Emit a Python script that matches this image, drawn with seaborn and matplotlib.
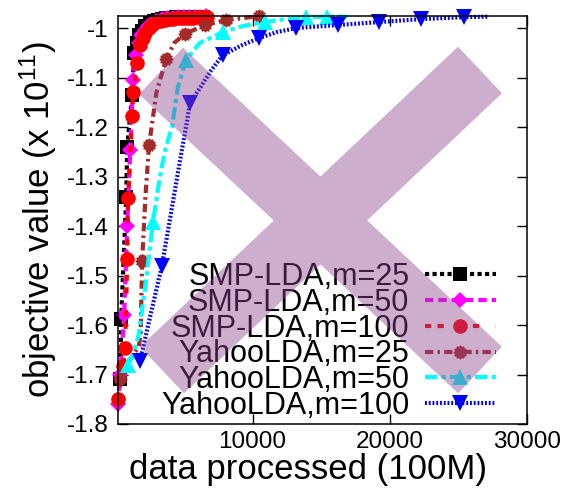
import numpy as np
import pandas as pd
import matplotlib
matplotlib.use("Agg")
import matplotlib.pyplot as plt
import seaborn as sns
from matplotlib.patches import PathPatch
from matplotlib.path import Path
from matplotlib.lines import Line2D

# ---------------- data ----------------
labels = ["SMP-LDA,m=25", "SMP-LDA,m=50", "SMP-LDA,m=100",
          "YahooLDA,m=25", "YahooLDA,m=50", "YahooLDA,m=100"]

smp25_x = [360, 430, 800, 870, 1230, 1380, 1550, 1750, 1950, 2200, 2500, 2800, 3100, 3400,
           3700, 4000, 4400, 4800, 5200, 5600, 6000, 6400]
smp25_y = [-1.71, -1.587, -1.342, -1.24, -1.135, -1.05, -1.03, -1.015, -1.005, -0.996, -0.99,
           -0.986, -0.983, -0.981, -0.98, -0.979, -0.9785, -0.978, -0.978, -0.9775, -0.9775, -0.977]

smp50_x = [220, 360, 650, 870, 1090, 1300, 1500, 1700, 1900, 2150, 2400, 2700, 3000, 3400,
           3800, 4200, 4600, 5000, 5400, 5800, 6200, 6600]
smp50_y = [-1.76, -1.70, -1.58, -1.40, -1.247, -1.105, -1.055, -1.03, -1.015, -1.003, -0.995,
           -0.989, -0.985, -0.982, -0.98, -0.979, -0.9785, -0.978, -0.9775, -0.977, -0.977, -0.9765]

smp100_x = [220, 580, 720, 870, 940, 1230, 1300, 1600, 1800, 2000, 2200, 2450, 2700, 3000,
            3300, 3600, 3900, 4200, 4500, 4800, 5100, 5400, 5700, 6000, 6300, 6700]
smp100_y = [-1.75, -1.682, -1.646, -1.466, -1.344, -1.178, -1.13, -1.07, -1.035, -1.02, -1.01,
            -1.0, -0.993, -0.988, -0.985, -0.983, -0.982, -0.981, -0.9805, -0.98, -0.9795,
            -0.979, -0.979, -0.9785, -0.978, -0.978]

yahoo25_x = [360, 900, 1300, 1700, 1850, 1900, 1960, 2200, 2460, 3000, 3700, 4300, 5070,
             6520, 8040, 10500]
yahoo25_y = [-1.71, -1.68, -1.66, -1.645, -1.62, -1.55, -1.47, -1.34, -1.237, -1.13, -1.063,
             -1.03, -1.012, -0.994, -0.984, -0.976]
yahoo25_marks = [0, 6, 8, 10, 12, 13, 14, 15]

yahoo50_x = [940, 1300, 1700, 2200, 2750, 3200, 3600, 4130, 4560, 5140, 6160, 7100, 7830,
             9300, 10900, 12400, 13900, 15400, 16900]
yahoo50_y = [-1.68, -1.66, -1.62, -1.52, -1.392, -1.31, -1.25, -1.2, -1.12, -1.065, -1.03,
             -1.018, -1.008, -0.996, -0.988, -0.982, -0.978, -0.977, -0.977]
yahoo50_marks = [0, 4, 9, 12, 14, 16, 17]

yahoo100_x = [1810, 2400, 2900, 3400, 4000, 4500, 4850, 5220, 5430, 6200, 7000, 7830, 9200,
              10500, 11800, 13200, 14700, 16200, 17700, 19200, 20700, 22300, 23800, 25400, 27100]
yahoo100_y = [-1.672, -1.60, -1.54, -1.48, -1.384, -1.303, -1.247, -1.19, -1.152, -1.12,
              -1.085, -1.055, -1.035, -1.02, -1.008, -1.0, -0.997, -0.994, -0.991, -0.988,
              -0.985, -0.982, -0.98, -0.978, -0.977]
yahoo100_marks = [0, 3, 8, 11, 13, 15, 17, 19, 21, 23]

x_ticks = [10000, 20000, 30000]
y_ticks = [-1.8, -1.7, -1.6, -1.5, -1.4, -1.3, -1.2, -1.1, -1.0]
y_ticklabels = ["-1.8", "-1.7", "-1.6", "-1.5", "-1.4", "-1.3", "-1.2", "-1.1", "-1"]

# ---------------- style ----------------
sns.set_style("ticks")
plt.rcParams['font.family'] = ['Liberation Sans', 'DejaVu Sans']
plt.rcParams['mathtext.fontset'] = 'custom'
plt.rcParams['mathtext.rm'] = 'Liberation Sans'
plt.rcParams['mathtext.it'] = 'Liberation Sans'
plt.rcParams['text.color'] = 'black'
plt.rcParams['axes.labelcolor'] = 'black'
plt.rcParams['xtick.color'] = 'black'
plt.rcParams['ytick.color'] = 'black'

ang = np.linspace(0, 2 * np.pi, 25)[:-1]
rad = np.where(np.arange(24) % 2 == 0, 1.0, 0.8)
gear = list(zip(rad * np.cos(ang), rad * np.sin(ang)))

series = [
    (smp25_x, smp25_y, None, dict(color="black", marker="s", ms=10, ls=(0, (1.0, 0.8)))),
    (smp50_x, smp50_y, None, dict(color="#ff00ff", marker="D", ms=8.5, ls=(0, (2.0, 1.2)))),
    (smp100_x, smp100_y, None, dict(color="#ff0000", marker="o", ms=10.5, ls=(0, (1.5, 1.5, 1.5, 4.0)))),
    (yahoo25_x, yahoo25_y, yahoo25_marks, dict(color="#a52a2a", marker=gear, ms=10.5, ls=(0, (2.0, 1.0, 0.6, 1.0)))),
    (yahoo50_x, yahoo50_y, yahoo50_marks, dict(color="#00ffff", marker="^", ms=11, ls=(0, (3.0, 1.0, 1.0, 1.0)))),
    (yahoo100_x, yahoo100_y, yahoo100_marks, dict(color="#0000ff", marker="v", ms=11, ls=(0, (0.45, 0.45)))),
]

fig = plt.figure(figsize=(5.68, 4.92), dpi=100)
ax = fig.add_axes([118 / 568, 1 - 424 / 492, (527 - 118) / 568, (424 - 16) / 492])

handles = []
for (xs, ys, marks, st), lab in zip(series, labels):
    df = pd.DataFrame({"x": xs, "y": ys})
    sns.lineplot(data=df, x="x", y="y", ax=ax, estimator=None, sort=False,
                 color=st["color"], marker=st["marker"], markersize=st["ms"],
                 markeredgewidth=0, linestyle=st["ls"], linewidth=3,
                 markevery=marks, clip_on=False, legend=False)
    handles.append(Line2D([], [], color=st["color"], marker=st["marker"],
                          markersize=st["ms"], markeredgewidth=0,
                          linestyle=st["ls"], linewidth=3))

ax.set_xlim(200, 30000)
ax.set_ylim(-1.8, -0.9757)
ax.set_xticks(x_ticks)
ax.set_xticklabels([str(t) for t in x_ticks])
ax.set_yticks(y_ticks)
ax.set_yticklabels(y_ticklabels)
ax.tick_params(direction="in", length=7, width=1, labelsize=17.5,
               top=True, right=True, colors="black")
ax.tick_params(axis="x", pad=5)
ax.tick_params(axis="y", pad=7)
for sp in ax.spines.values():
    sp.set_linewidth(1.1)
    sp.set_color("black")

ax.set_xlabel("data processed (100M)", fontsize=25)
ax.set_ylabel(r"objective value (x 10$^{11}$)", fontsize=25)
ax.xaxis.set_label_coords(0.465, -0.07)
ax.yaxis.set_label_coords(-0.145, 0.5)

leg = ax.legend(handles, labels, loc="lower right", bbox_to_anchor=(0.925, 0.008),
                fontsize=22, markerfirst=False, frameon=False, handlelength=2.35,
                handletextpad=0.5, labelspacing=-0.14, borderpad=0, borderaxespad=0)

# translucent "X" overlay, drawn as one path so the crossing is not darker
def bar(p0, p1, w):
    p0 = np.array(p0, float); p1 = np.array(p1, float)
    d = p1 - p0; d /= np.hypot(*d)
    n = np.array([-d[1], d[0]]) * w / 2
    pts = [p0 + n, p1 + n, p1 - n, p0 - n, p0 + n]
    return [(px / 568, 1 - py / 492) for px, py in pts]

verts, codes = [], []
for a, b in [((161, 71), (480, 370)), ((162, 370), (480, 70))]:
    verts += bar(a, b, 64)
    codes += [Path.MOVETO, Path.LINETO, Path.LINETO, Path.LINETO, Path.CLOSEPOLY]
xpath = Path(verts, codes)
fig.patches.append(PathPatch(xpath, transform=fig.transFigure,
                             facecolor=(140 / 255, 67 / 255, 140 / 255), alpha=0.43,
                             edgecolor="none", zorder=10))

fig.savefig("out.png", dpi=100)
